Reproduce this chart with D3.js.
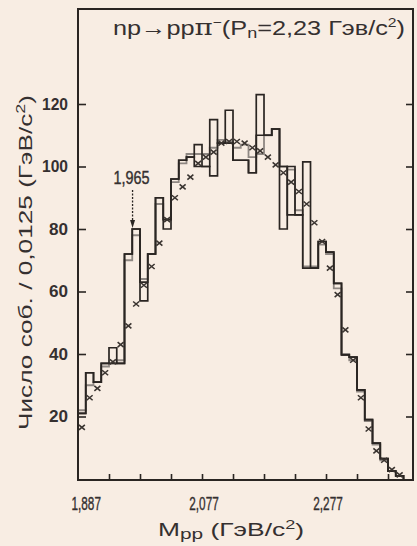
<!DOCTYPE html>
<html>
<head>
<meta charset="utf-8">
<script src="https://cdn.jsdelivr.net/npm/d3@7/dist/d3.min.js"></script>
<style>
body { margin: 0; background: #f8ede3; }
svg { display: block; }
</style>
</head>
<body>
<div id="chart"></div>
<script>

// bins of the mass histogram, GeV/c^2
var binStart = 1.877,
	binWidth = 0.0125;

// two black histograms (where they differ a box is drawn)
var histA = [21, 34, 31, 37, 37, 37, 72, 80, 57, 72, 90, 80, 96, 102, 103, 100, 100, 97, 107.5, 107.5,
	102, 102, 98, 110, 110, 112, 80, 100, 84.5, 67.5, 67.5, 76, 72.6, 62.6, 39.7, 39, 28.5, 19, 11.5, 6.5, 2.5, 1];
var histB = [21, 34, 31, 37, 42, 37, 72, 80, 63, 72, 90, 83, 96, 102, 103, 107, 100, 115, 107.5, 118,
	102, 102, 98, 123, 110, 112, 100, 84.5, 84.5, 101.5, 67.5, 76, 72.6, 62.6, 39.7, 39, 28.5, 19, 11.5, 6.5, 2.5, 1];

// gray histogram
var histGray = [22, 30, 31, 36, 37, 38, 70, 78, 64, 72, 88, 83, 95, 101, 104, 104, 104, 106, 108.5, 108,
	106, 107, 103, 104, 110, 112, 100, 99, 86, 68, 68, 75, 72, 61, 40, 38, 28, 18.5, 11, 6, 2.5, 1];

// crosses, one per bin
var crossVals = [16.5, 26, 29, 34, 37.5, 43, 49, 56, 62, 68, 75.5, 83, 90, 93.5, 96.6, 101, 103, 104.6, 107.5, 108,
	108, 107.5, 106, 105, 103, 100.5, 98, 95, 92, 88, 82, 76, 67.5, 59, 47.7, 38, 26, 16, 9, 6, 3, 1.3];

// axis ticks and labels
var yTicks = [20, 40, 60, 80, 100, 120];
var xTicks = [1.927, 1.977, 2.027, 2.077, 2.127, 2.177, 2.227, 2.277, 2.327, 2.377];
var xLabelVals = [1.887, 2.077, 2.277];
var xLabelText = ["1,887", "2,077", "2,277"];
var peakMass = 1.965;

var ink = "#2a2522",
	grayInk = "#8e8782",
	textInk = "#353030",
	font = "Liberation Sans, Arial, sans-serif";

var svg = d3.select("#chart").append("svg")
	.attr("width", 417)
	.attr("height", 546);

svg.append("rect")
	.attr("width", 417)
	.attr("height", 546)
	.attr("fill", "#f8ede3");

// scales
var x = d3.scaleLinear().domain([1.877, 2.4173]).range([78, 413]),
	y = d3.scaleLinear().domain([0, 150]).range([479, 10.25]);

// step points for a histogram, closed down to zero at both ends
function stepPoints(vals){

	var pts = [[binStart, 0]];
	vals.forEach(function(v, i){
		pts.push([binStart + i * binWidth, v]);
	});
	pts.push([binStart + vals.length * binWidth, 0]);
	return pts;
}

var stepLine = d3.line()
	.x(function(d){ return x(d[0]); })
	.y(function(d){ return y(d[1]); })
	.curve(d3.curveStepAfter);

// gray histogram first, black ones on top
svg.append("path")
	.attr("d", stepLine(stepPoints(histGray)))
	.attr("fill", "none")
	.attr("stroke", grayInk)
	.attr("stroke-width", 1.8);

[histA, histB].forEach(function(h){
	svg.append("path")
		.attr("d", stepLine(stepPoints(h)))
		.attr("fill", "none")
		.attr("stroke", ink)
		.attr("stroke-width", 1.7);
});

// crosses
svg.selectAll(".cross")
	.data(crossVals)
	.enter()
	.append("path")
	.attr("class", "cross")
	.attr("transform", function(d, i){
		return "translate(" + x(binStart + (i + 0.5) * binWidth) + "," + y(d) + ")";
	})
	.attr("d", "M-3,-2.5L3,2.5M-3,2.5L3,-2.5")
	.attr("stroke", "#3a3430")
	.attr("stroke-width", 1.6);

// frame
svg.append("rect")
	.attr("x", 78)
	.attr("y", 9)
	.attr("width", 335)
	.attr("height", 471)
	.attr("fill", "none")
	.attr("stroke", ink)
	.attr("stroke-width", 2);

// inward ticks on the left and right
svg.append("g")
	.attr("transform", "translate(78,0)")
	.call(d3.axisLeft(y).tickValues(yTicks).tickSize(-8).tickPadding(10))
	.call(function(g){ g.select(".domain").remove(); })
	.call(function(g){
		g.selectAll("line").attr("stroke", ink).attr("stroke-width", 1.6);
		g.selectAll("text")
			.attr("fill", textInk)
			.attr("textLength", function(d){ return d >= 100 ? 26 : 19; })
			.attr("lengthAdjust", "spacingAndGlyphs")
			.style("font-family", font)
			.style("font-size", "16px")
			.style("font-weight", "bold");
	});

svg.append("g")
	.attr("transform", "translate(413,0)")
	.call(d3.axisRight(y).tickValues(yTicks).tickSize(-7).tickFormat(""))
	.call(function(g){ g.select(".domain").remove(); })
	.call(function(g){ g.selectAll("line").attr("stroke", ink).attr("stroke-width", 1.6); });

// x ticks, pointing up into the plot
svg.append("g")
	.attr("transform", "translate(0,480)")
	.call(d3.axisBottom(x).tickValues(xTicks).tickSize(-6).tickFormat(""))
	.call(function(g){ g.select(".domain").remove(); })
	.call(function(g){ g.selectAll("line").attr("stroke", ink).attr("stroke-width", 1.6); });

// x tick labels, narrow and tall like the drafting font
svg.append("g")
	.selectAll("text")
	.data(xLabelVals)
	.enter()
	.append("text")
	.attr("transform", function(d){ return "translate(" + (x(d) + 2) + ",510) scale(0.62,1)"; })
	.attr("text-anchor", "middle")
	.attr("fill", textInk)
	.attr("stroke", textInk)
	.attr("stroke-width", 0.4)
	.style("font-family", font)
	.style("font-size", "19px")
	.text(function(d, i){ return xLabelText[i]; });

// x axis title
var xt = svg.append("text")
	.attr("x", 158)
	.attr("y", 536)
	.attr("textLength", 146)
	.attr("lengthAdjust", "spacingAndGlyphs")
	.attr("fill", textInk)
	.style("font-family", font)
	.style("font-size", "19px");
xt.append("tspan").text("M");
xt.append("tspan").style("font-size", "15px").attr("dy", 3).text("pp");
xt.append("tspan").attr("dy", -3).text(" (ГэВ/c");
xt.append("tspan").style("font-size", "13px").attr("dy", -7).text("2");
xt.append("tspan").attr("dy", 7).text(")");

// y axis title
var yt = svg.append("text")
	.attr("transform", "translate(32,430) rotate(-90)")
	.attr("textLength", 335)
	.attr("lengthAdjust", "spacingAndGlyphs")
	.attr("fill", textInk)
	.style("font-family", font)
	.style("font-size", "19px");
yt.append("tspan").text("Число соб.  /  0,0125 (ГэВ/c");
yt.append("tspan").style("font-size", "13px").attr("dy", -7).text("2");
yt.append("tspan").attr("dy", 7).text(")");

// title
var tt = svg.append("text")
	.attr("x", 113)
	.attr("y", 35)
	.attr("textLength", 292)
	.attr("lengthAdjust", "spacingAndGlyphs")
	.attr("fill", textInk)
	.style("font-family", font)
	.style("font-size", "21px");
tt.append("tspan").text("np→pp");
tt.append("tspan").style("font-family", "DejaVu Serif, serif").style("font-size", "23px").text("π");
tt.append("tspan").attr("dy", -8).style("font-size", "13px").text("−");
tt.append("tspan").attr("dy", 8).text("(P");
tt.append("tspan").attr("dy", 3).style("font-size", "15px").text("n");
tt.append("tspan").attr("dy", -3).text("=2,23 Гэв/c");
tt.append("tspan").attr("dy", -8).style("font-size", "13px").text("2");
tt.append("tspan").attr("dy", 8).text(")");

// peak annotation
var px = x(peakMass);
svg.append("text")
	.attr("transform", "translate(" + (px - 1) + ",184) scale(0.8,1)")
	.attr("text-anchor", "middle")
	.attr("fill", textInk)
	.attr("stroke", textInk)
	.attr("stroke-width", 0.4)
	.style("font-family", font)
	.style("font-size", "18px")
	.text("1,965");

svg.append("line")
	.attr("x1", px).attr("x2", px)
	.attr("y1", 190).attr("y2", 222)
	.attr("stroke", ink)
	.attr("stroke-width", 1.3)
	.attr("stroke-dasharray", "2,1.5");

svg.append("path")
	.attr("d", "M" + (px - 2.5) + ",220L" + (px + 2.5) + ",220L" + px + ",228Z")
	.attr("fill", ink);

</script>
</body>
</html>
